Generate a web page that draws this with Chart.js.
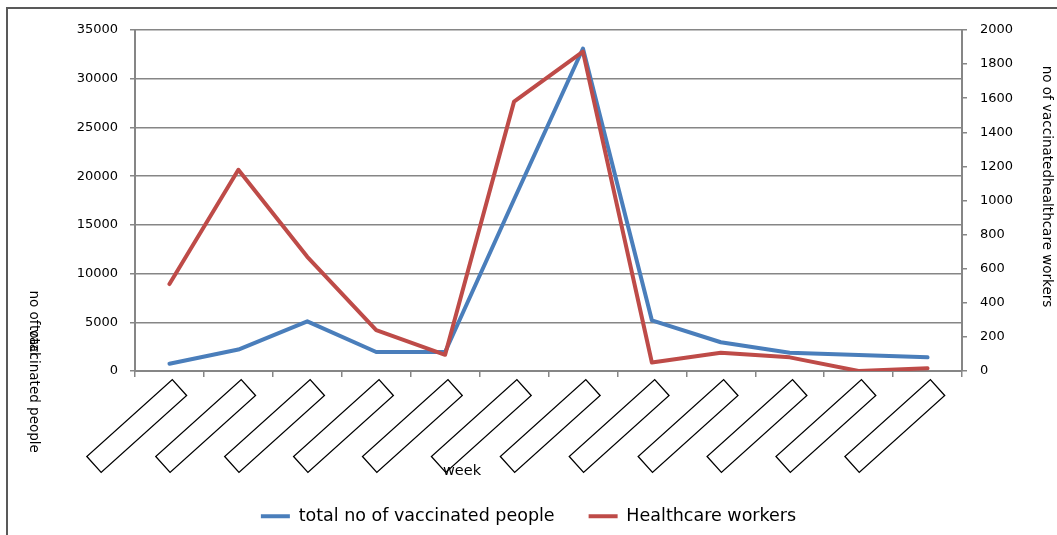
<!DOCTYPE html>
<html>
<head>
<meta charset="utf-8">
<script src="https://cdn.jsdelivr.net/npm/chart.js@4.4.1/dist/chart.umd.min.js"></script>
<style>
  html, body { margin: 0; padding: 0; background: #fff; }
  #wrap { width: 1057px; height: 535px; position: relative; }
</style>
</head>
<body>
<div id="wrap"><canvas id="chart"></canvas></div>
<script>
const weeks = ['1', '2', '3', '4', '5', '6', '7', '8', '9', '10', '11', '12'];
const totalVaccinated = [750, 2200, 5100, 1950, 1950, 17600, 33100, 5200, 2950, 1880, 1640, 1400];
const healthcareWorkers = [510, 1180, 670, 240, 95, 1580, 1873, 50, 107, 80, 0, 16];
const leftTicks = [0, 5000, 10000, 15000, 20000, 25000, 30000, 35000];
const rightTicks = [0, 200, 400, 600, 800, 1000, 1200, 1400, 1600, 1800, 2000];

const FONT = 'DejaVu Sans';
const AXIS_GREY = '#868686';
const PLOT_BOTTOM = 371;

// frame, empty label boxes and the axis titles
const decorations = {
  id: 'decorations',
  beforeDraw(chart) {
    const ctx = chart.ctx;
    ctx.save();
    ctx.strokeStyle = '#595959';
    ctx.lineWidth = 2;
    ctx.strokeRect(7, 8, 1200, 700);
    ctx.restore();
  },
  afterDraw(chart) {
    const ctx = chart.ctx;
    const x = chart.scales.x;
    ctx.save();
    ctx.strokeStyle = '#000';
    ctx.lineWidth = 1.3;
    weeks.forEach((w, i) => {
      const xc = x.getPixelForValue(i);
      ctx.save();
      ctx.translate(xc + 10, x.top + 16.5);
      ctx.rotate(-42 * Math.PI / 180);
      ctx.strokeRect(-115, -10.7, 115, 21.4);
      ctx.restore();
    });

    ctx.fillStyle = '#000';
    ctx.textBaseline = 'middle';
    ctx.font = '14.5px "' + FONT + '"';
    ctx.textAlign = 'center';
    ctx.fillText('week', 462, 471);

    ctx.font = '13.5px "' + FONT + '"';
    ctx.save();
    ctx.translate(33, 290.5);
    ctx.rotate(Math.PI / 2);
    ctx.textAlign = 'left';
    ctx.fillText('no of vaccinated people', 0, 0);
    ctx.fillText('total', 34.5, 0);
    ctx.restore();

    ctx.save();
    ctx.translate(1046, 186.5);
    ctx.rotate(Math.PI / 2);
    ctx.textAlign = 'center';
    ctx.fillText('no of vaccinatedhealthcare workers', 0, 0);
    ctx.restore();
    ctx.restore();
  }
};

new Chart(document.getElementById('chart'), {
  type: 'line',
  data: {
    labels: weeks,
    datasets: [
      {
        label: 'total no of vaccinated people',
        data: totalVaccinated,
        yAxisID: 'y',
        borderColor: '#4A7EBB',
        backgroundColor: '#4A7EBB',
        borderWidth: 4,
        pointRadius: 0,
        tension: 0,
        borderJoinStyle: 'round',
        borderCapStyle: 'round',
        order: 1
      },
      {
        label: 'Healthcare workers',
        data: healthcareWorkers,
        yAxisID: 'y1',
        borderColor: '#BE4B48',
        backgroundColor: '#BE4B48',
        borderWidth: 4,
        pointRadius: 0,
        tension: 0,
        borderJoinStyle: 'round',
        borderCapStyle: 'round',
        order: 0
      }
    ]
  },
  options: {
    responsive: true,
    maintainAspectRatio: false,
    animation: false,
    events: [],
    layout: { padding: { top: 30, left: 0, right: 0, bottom: 0 } },
    plugins: {
      tooltip: { enabled: false },
      legend: {
        position: 'bottom',
        labels: {
          usePointStyle: true,
          pointStyle: 'line',
          pointStyleWidth: 29,
          padding: 34,
          color: '#000',
          font: { family: FONT, size: 17.5 },
          sort: (a, b) => a.datasetIndex - b.datasetIndex
        }
      }
    },
    scales: {
      x: {
        offset: true,
        grid: {
          offset: true,
          drawOnChartArea: false,
          drawTicks: true,
          tickLength: 6,
          color: AXIS_GREY,
          lineWidth: 1.5
        },
        border: { color: AXIS_GREY, width: 2 },
        ticks: { display: false },
        afterFit(scale) {
          const leg = scale.chart.legend;
          scale.height = scale.chart.height - (leg ? leg.height : 0) - PLOT_BOTTOM;
        }
      },
      y: {
        position: 'left',
        min: 0,
        max: 35000,
        grid: { color: AXIS_GREY, lineWidth: 1.5, tickLength: 5 },
        border: { color: AXIS_GREY, width: 2 },
        ticks: {
          stepSize: 5000,
          padding: 12,
          color: '#000',
          font: { family: FONT, size: 13 },
          callback: v => String(v)
        },
        afterBuildTicks(scale) {
          scale.ticks = leftTicks.map(v => ({ value: v }));
        },
        afterFit(scale) { scale.width = 135; }
      },
      y1: {
        position: 'right',
        min: 0,
        max: 2000,
        grid: { drawOnChartArea: false, color: AXIS_GREY, lineWidth: 1.5, tickLength: 5 },
        border: { color: AXIS_GREY, width: 2 },
        ticks: {
          stepSize: 200,
          padding: 13,
          color: '#000',
          font: { family: FONT, size: 13 },
          callback: v => String(v)
        },
        afterBuildTicks(scale) {
          scale.ticks = rightTicks.map(v => ({ value: v }));
        },
        afterFit(scale) { scale.width = 95; }
      }
    }
  },
  plugins: [decorations]
});
</script>
</body>
</html>
